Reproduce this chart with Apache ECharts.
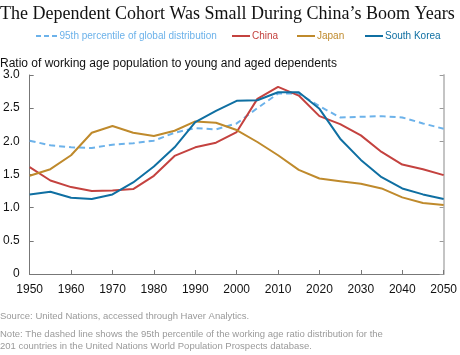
<!DOCTYPE html>
<html><head><meta charset="utf-8">
<script src="https://cdn.jsdelivr.net/npm/echarts@6/dist/echarts.min.js"></script>
<style>html,body{margin:0;padding:0;background:#fff}#c{width:460px;height:355px}</style>
</head><body><div id="c"></div>
<script>
var years = [1950,1955,1960,1965,1970,1975,1980,1985,1990,1995,2000,2005,2010,2015,2020,2025,2030,2035,2040,2045,2050];
var p95   = [2.01,1.94,1.91,1.90,1.95,1.97,2.01,2.13,2.20,2.18,2.27,2.50,2.72,2.72,2.53,2.36,2.37,2.38,2.36,2.27,2.19];
var china = [1.61,1.41,1.31,1.25,1.26,1.28,1.48,1.78,1.91,1.98,2.14,2.64,2.82,2.69,2.38,2.26,2.09,1.84,1.65,1.58,1.49];
var japan = [1.48,1.58,1.79,2.13,2.23,2.13,2.08,2.16,2.30,2.28,2.17,1.99,1.79,1.57,1.44,1.40,1.36,1.29,1.155,1.07,1.04];
var korea = [1.20,1.24,1.15,1.13,1.20,1.38,1.62,1.91,2.29,2.46,2.61,2.62,2.74,2.74,2.49,2.04,1.72,1.46,1.29,1.20,1.13];
var seriesNames = ['95th percentile of global distribution','China','Japan','South Korea'];
var colors = ['#6cb2ea','#c4423f','#bf8a2c','#0f6fa2'];

function pairs(v){ return years.map(function(y,i){ return [y, v[i]]; }); }

var chart = echarts.init(document.getElementById('c'), null, {renderer:'canvas'});
var sans = 'Liberation Sans, Arial, sans-serif';
var legendLeft = [36, 232, 297, 365];
var legendIcons = ['path://M0,0H5V2H0Z M8,0H13V2H8Z M16,0H21V2H16Z', 'rect', 'rect', 'rect'];
var legendWidths = [22, 18, 18, 18];
var legends = seriesNames.map(function(n,i){
  return {top:31, left:legendLeft[i], padding:0, itemWidth:legendWidths[i], itemHeight:2,
    icon:legendIcons[i], selectedMode:false,
    data:[{name:n}],
    textStyle:{fontFamily:sans, fontSize:10, color:colors[i], padding:[0,0,0,-3]}};
});
chart.setOption({
  animation:false,
  title:[
    {text:'The Dependent Cohort Was Small During China\u2019s Boom Years', left:-5, top:0,
     textStyle:{fontFamily:'Liberation Serif, Times New Roman, serif', fontWeight:'normal', fontSize:18, color:'#111'}},
    {text:'Ratio of working age population to young and aged dependents', left:-5, top:53,
     textStyle:{fontFamily:sans, fontWeight:'normal', fontSize:12, color:'#111'}},
    {text:'Source: United Nations, accessed through Haver Analytics.', left:-5, top:306,
     textStyle:{fontFamily:sans, fontWeight:'normal', fontSize:9.5, color:'#9a9a9a'}},
    {text:'Note: The dashed line shows the 95th percentile of the working age ratio distribution for the\n201 countries in the United Nations World Population Prospects database.', left:-5, top:323,
     textStyle:{fontFamily:sans, fontWeight:'normal', fontSize:9.5, lineHeight:12, color:'#9a9a9a'}}
  ],
  legend:legends,
  grid:{left:27.7, right:12.7, top:75, bottom:81},
  xAxis:[
    {type:'value', min:1950, max:2050, interval:10, position:'bottom',
     axisLine:{lineStyle:{color:'#777',width:1}}, axisTick:{show:true, inside:true, length:4, lineStyle:{color:'#777'}},
     axisLabel:{fontFamily:sans, fontSize:12, color:'#111', margin:10, formatter:function(v){ return String(v); }},
     splitLine:{show:false}},
    {type:'value', min:1950, max:2050, interval:10, position:'top',
     axisLine:{lineStyle:{color:'#777',width:1}}, axisTick:{show:false}, axisLabel:{show:false}, splitLine:{show:false}}
  ],
  yAxis:[
    {type:'value', min:0, max:3, interval:0.5, position:'left',
     axisLine:{show:true, lineStyle:{color:'#777',width:1}},
     axisTick:{show:true, inside:true, length:4, lineStyle:{color:'#777'}},
     axisLabel:{fontFamily:sans, fontSize:12, color:'#111', margin:10,
       formatter:function(v){ return v===0 ? '0' : v.toFixed(1); }},
     splitLine:{show:false}},
    {type:'value', min:0, max:3, interval:0.5, position:'right',
     axisLine:{show:true, lineStyle:{color:'#c4c4c4',width:2}},
     axisTick:{show:true, inside:true, length:4, lineStyle:{color:'#999'}},
     axisLabel:{show:false}, splitLine:{show:false}}
  ],
  series:[
    {name:seriesNames[0], type:'line', data:pairs(p95), symbol:'none', z:2,
     lineStyle:{color:colors[0], width:2, type:[6,4]}, itemStyle:{color:colors[0]}},
    {name:seriesNames[1], type:'line', data:pairs(china), symbol:'none', z:3,
     lineStyle:{color:colors[1], width:2}, itemStyle:{color:colors[1]}},
    {name:seriesNames[2], type:'line', data:pairs(japan), symbol:'none', z:3,
     lineStyle:{color:colors[2], width:2}, itemStyle:{color:colors[2]}},
    {name:seriesNames[3], type:'line', data:pairs(korea), symbol:'none', z:4,
     lineStyle:{color:colors[3], width:2}, itemStyle:{color:colors[3]}}
  ]
});
</script></body></html>
